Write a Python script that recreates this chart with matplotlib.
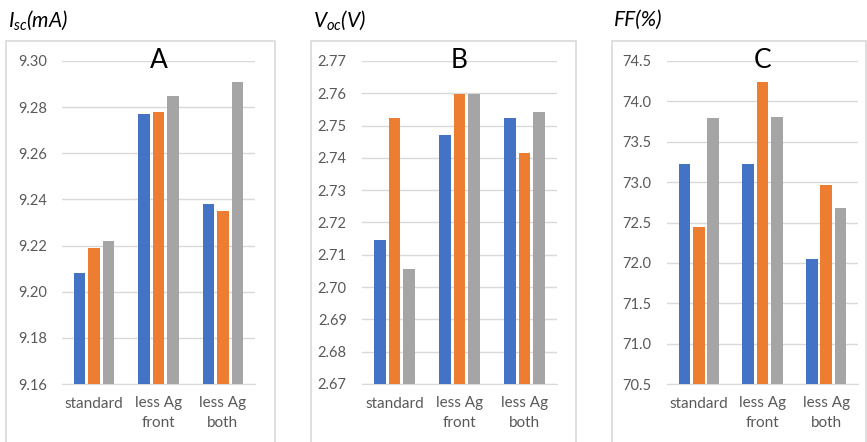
import matplotlib
matplotlib.use("Agg")
import matplotlib.pyplot as plt
import numpy as np
from matplotlib.patches import Rectangle

# Categories and series values
categories = ["standard", "less Ag\nfront", "less Ag\nboth"]

isc_blue = [9.208, 9.277, 9.238]
isc_orange = [9.219, 9.278, 9.235]
isc_gray = [9.222, 9.285, 9.291]

voc_blue = [2.7145, 2.7472, 2.7525]
voc_orange = [2.7522, 2.7598, 2.7416]
voc_gray = [2.7056, 2.7598, 2.7543]

ff_blue = [73.22, 73.22, 72.05]
ff_orange = [72.45, 74.24, 72.97]
ff_gray = [73.79, 73.81, 72.68]

isc_ticks = [9.16, 9.18, 9.20, 9.22, 9.24, 9.26, 9.28, 9.30]
voc_ticks = [2.67, 2.68, 2.69, 2.70, 2.71, 2.72, 2.73, 2.74, 2.75, 2.76, 2.77]
ff_ticks = [70.5, 71.0, 71.5, 72.0, 72.5, 73.0, 73.5, 74.0, 74.5]

COLORS = ["#4472C4", "#ED7D31", "#A5A5A5"]
GRID = "#D9D9D9"
TEXT = "#595959"

plt.rcParams["font.family"] = ["Lato", "DejaVu Sans"]
plt.rcParams["mathtext.fontset"] = "custom"
plt.rcParams["mathtext.it"] = "Lato:italic"
plt.rcParams["mathtext.rm"] = "Lato"

W, H = 867, 442
fig = plt.figure(figsize=(W / 100, H / 100), dpi=100)


def fx(px):
    return px / W


def fy(py):
    return 1 - py / H


panels = [
    # box (left, right), axes (left, right), title, letter, data, ticks, fmt
    ((6, 275), (62, 255), r"$I_{sc}$(mA)", "A",
     (isc_blue, isc_orange, isc_gray), isc_ticks, "{:.2f}"),
    ((311, 576), (362, 557), r"$V_{oc}$(V)", "B",
     (voc_blue, voc_orange, voc_gray), voc_ticks, "{:.2f}"),
    ((612, 866), (667, 858), "FF(%)", "C",
     (ff_blue, ff_orange, ff_gray), ff_ticks, "{:.1f}"),
]

y_top, y_bot = 61, 384
x = np.arange(len(categories))
width = 0.18
offset = 0.225

for (bl, br), (al, ar), title, letter, series, ticks, fmt in panels:
    # panel frame
    fig.patches.append(Rectangle((fx(bl), fy(H + 5)), fx(br - bl), fy(41) - fy(H + 5),
                                 transform=fig.transFigure, fill=False,
                                 edgecolor=GRID, linewidth=1.2))
    ax = fig.add_axes([fx(al), fy(y_bot), fx(ar - al), fy(y_top) - fy(y_bot)])
    for k, vals in enumerate(series):
        ax.bar(x + (k - 1) * offset, vals, width, color=COLORS[k], zorder=3)
    ax.set_xlim(-0.5, len(categories) - 0.5)
    ax.set_ylim(ticks[0], ticks[-1])
    ax.set_yticks(ticks)
    ax.set_yticklabels([fmt.format(t) for t in ticks])
    ax.set_xticks(x)
    ax.set_xticklabels(categories, linespacing=1.5)
    ax.grid(axis="y", color=GRID, linewidth=1.0, zorder=0)
    for s in ["top", "right", "left"]:
        ax.spines[s].set_visible(False)
    ax.spines["bottom"].set_color(GRID)
    ax.tick_params(axis="both", length=0, colors=TEXT)
    ax.tick_params(axis="y", pad=11, labelsize=10.5)
    ax.tick_params(axis="x", pad=9, labelsize=11)
    ax.text(0.5, 1.0, letter, transform=ax.transAxes, ha="center", va="center",
            fontsize=19, color="black", zorder=5)
    fig.text(fx(bl + 2), fy(20), title, fontsize=15, style="italic",
             ha="left", va="center", color="black")

fig.savefig("out.png", dpi=100)
